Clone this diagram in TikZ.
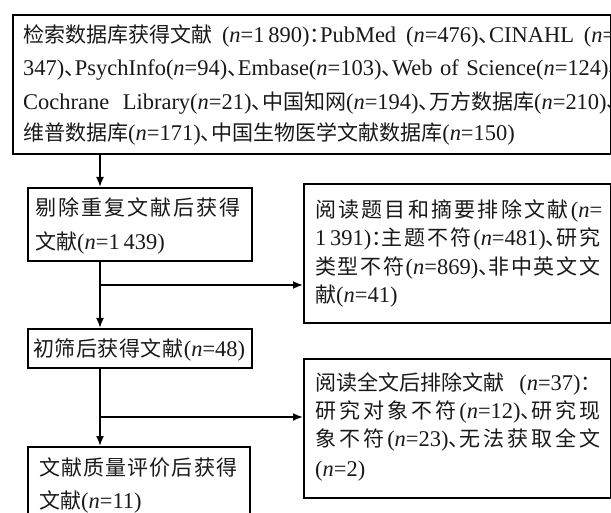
\documentclass[tikz,border=0pt]{standalone}
\usepackage{fontspec}
\setmainfont{Noto Sans CJK SC}
\newfontfamily\latf[Scale=1.07]{Liberation Serif}
\newfontfamily\cjkhalt[RawFeature=+halt]{Noto Sans CJK SC}
\usetikzlibrary{arrows.meta}
\newcommand\nv[1]{{\latf(\textit{n}=#1)}}
\newcommand\nopen{{\latf(\textit{n}=}}
\newcommand\la[1]{{\latf #1}}
\newcommand\dun{{\cjkhalt 、}}
\newcommand\colo{{\cjkhalt ：}}
\def\sprEnd{\relax}
\newcommand\spr[1]{\sprA#1\sprEnd}
\def\sprA#1{\ifx#1\sprEnd\else#1\hskip 0pt plus 1fil\expandafter\sprA\fi}
\newcommand\cut{\hskip 0pt plus -1fil}
\tikzset{
  ln/.style={anchor=base west, inner sep=0pt, font=\fontsize{21pt}{25pt}\selectfont, text=black!90},
  box/.style={draw=black, line width=1.6pt, anchor=north west, inner sep=0pt},
  arr/.style={line width=1.8pt, -{Latex[length=10pt,width=8pt]}},
}
\begin{document}
\begin{tikzpicture}[x=1pt,y=-1pt]
\useasboundingbox (0,0) rectangle (611,513);
\clip (0,0) rectangle (611,513);
% boxes
\node[box, line width=2.2pt, minimum width=598pt, minimum height=139pt] (A) at (12,14) {};
\node[box, minimum width=224pt, minimum height=73pt] (B) at (27,187) {};
\node[box, minimum width=224pt, minimum height=39pt] (C) at (27,328) {};
\node[box, minimum width=307pt, minimum height=139pt] (D) at (303,183) {};
\node[box, minimum width=222pt, minimum height=100pt] (E) at (27,446) {};
\node[box, minimum width=307pt, minimum height=139pt] (F) at (303,358) {};
% texts
\node[ln] (a1) at (23,43) {\hbox to 592pt{检索数据库获得文献\hfil\nv{1\,890}\colo\la{PubMed}\hfil\nv{476}\dun\la{CINAHL}\hfil\nopen}};
\node[ln] (a2) at (23,76) {\hbox to 596pt{\la{347)}\dun\la{PsychInfo}\nv{94}\dun\la{Embase}\nv{103}\dun\la{Web}\hfil\la{of}\hfil\la{Science}\nv{124}\dun}};
\node[ln] (a3) at (23,110) {\hbox to 594pt{\la{Cochrane}\hfil\la{Library}\nv{21}\dun 中国知网\nv{194}\dun 万方数据库\nv{210}\dun}};
\node[ln] (a4) at (23,141) {维普数据库\nv{171}\dun 中国生物医学文献数据库\nv{150}};
\node[ln] (b1) at (35,216) {\hbox to 205pt{\spr{剔除重复文献后获得}\cut}};
\node[ln] (b2) at (35,250) {文献\nv{1\,439}};
\node[ln] (c1) at (33,356) {\hbox to 212pt{\spr{初筛后获得文献}\nv{48}}};
\node[ln] (d1) at (315,218) {\hbox to 287pt{\spr{阅读题目和摘要排除文献}\nopen}};
\node[ln] (d2) at (315,246) {\hbox to 285pt{\la{1\,391)}\colo\spr{主题不符}\nv{481}\dun\spr{研究}\cut}};
\node[ln] (d3) at (315,275) {\hbox to 285pt{\spr{类型不符}\nv{869}\dun\spr{非中英文文}\cut}};
\node[ln] (d4) at (315,303) {献\nv{41}};
\node[ln] (e1) at (39,475) {\hbox to 198pt{\spr{文献质量评价后获得}\cut}};
\node[ln] (e2) at (39,508) {文献\nv{11}};
\node[ln] (f1) at (315,390) {\hbox to 276pt{阅读全文后排除文献\hfil\nv{37}\colo}};
\node[ln] (f2) at (315,418) {\hbox to 285pt{\spr{研究对象不符}\nv{12}\dun\spr{研究现}\cut}};
\node[ln] (f3) at (315,446) {\hbox to 285pt{\spr{象不符}\nv{23}\dun\spr{无法获取全文}\cut}};
\node[ln] (f4) at (315,476) {\nv{2}};
% connectors
\coordinate (x0) at (100,0);
\coordinate (j1) at (100,285);
\coordinate (j2) at (100,417);
\draw[arr] (A.south -| x0) -- (B.north -| x0);
\draw[arr] (B.south -| x0) -- (C.north -| x0);
\draw[arr] (j1) -- (D.west |- j1);
\draw[arr] (C.south -| x0) -- (E.north -| x0);
\draw[arr] (j2) -- (F.west |- j2);
\end{tikzpicture}
\end{document}
